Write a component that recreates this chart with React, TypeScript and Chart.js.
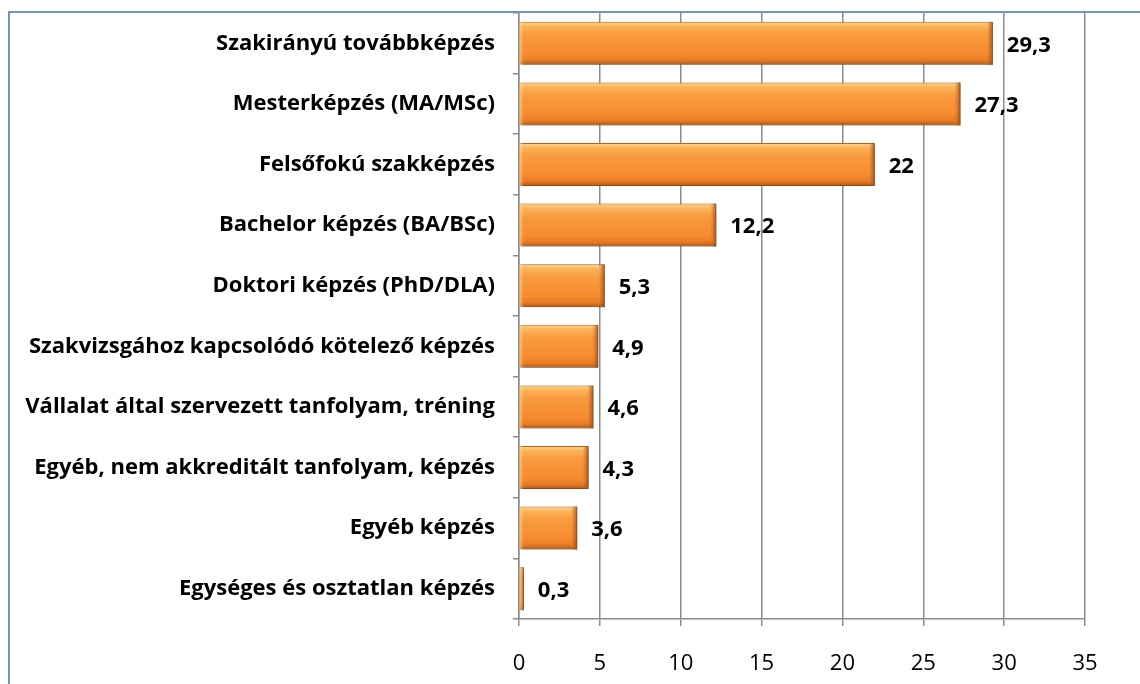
import React, { useEffect, useRef } from "react";
import { Chart, registerables } from "chart.js";

Chart.register(...registerables);

const categories = [
  "Szakirányú továbbképzés",
  "Mesterképzés (MA/MSc)",
  "Felsőfokú szakképzés",
  "Bachelor képzés (BA/BSc)",
  "Doktori képzés (PhD/DLA)",
  "Szakvizsgához kapcsolódó kötelező képzés",
  "Vállalat által szervezett tanfolyam, tréning",
  "Egyéb, nem akkreditált tanfolyam, képzés",
  "Egyéb képzés",
  "Egységes és osztatlan képzés",
];
const values = [29.3, 27.3, 22, 12.2, 5.3, 4.9, 4.6, 4.3, 3.6, 0.3];
const xMin = 0;
const xMax = 35;
const xStep = 5;

const FONT = "'Open Sans', 'Noto Sans', sans-serif";
const BAR_PCT = 0.71;

const fmt = (v: number) => String(v).replace(".", ",");

const barGradient = (ctx: any) => {
  const chart = ctx.chart;
  const ys = chart.scales && chart.scales.y;
  if (!ys || ctx.dataIndex === undefined || !chart.chartArea) return "#F7923A";
  const c = ys.getPixelForValue(ctx.dataIndex);
  const h = (ys.height / categories.length) * BAR_PCT;
  const g = chart.ctx.createLinearGradient(0, c - h / 2, 0, c + h / 2);
  g.addColorStop(0, "#FDD58A");
  g.addColorStop(0.12, "#FBB257");
  g.addColorStop(0.3, "#F99A3E");
  g.addColorStop(0.75, "#F68B30");
  g.addColorStop(0.9, "#E67A22");
  g.addColorStop(1, "#A9561A");
  return g;
};

const decorPlugin = {
  id: "decor",
  beforeDatasetsDraw(chart: any) {
    const ctx = chart.ctx;
    ctx.save();
    ctx.shadowColor = "rgba(0,0,0,0.35)";
    ctx.shadowOffsetX = 2;
    ctx.shadowOffsetY = 2;
    ctx.shadowBlur = 3;
  },
  afterDatasetsDraw(chart: any) {
    const ctx = chart.ctx;
    ctx.restore();
    const meta = chart.getDatasetMeta(0);
    ctx.save();
    meta.data.forEach((bar: any, i: number) => {
      const { x, y, base, height } = bar.getProps(["x", "y", "base", "height"], true);
      const top = y - height / 2;
      const w = Math.min(6, x - base);
      const g = ctx.createLinearGradient(x - w, 0, x, 0);
      g.addColorStop(0, "rgba(200,100,30,0)");
      g.addColorStop(1, "rgba(150,70,15,0.85)");
      ctx.fillStyle = g;
      ctx.fillRect(x - w, top, w, height);
      const lw = Math.min(4, x - base);
      const lg = ctx.createLinearGradient(base, 0, base + lw, 0);
      lg.addColorStop(0, "rgba(255,220,150,0.6)");
      lg.addColorStop(1, "rgba(255,220,150,0)");
      ctx.fillStyle = lg;
      ctx.fillRect(base, top, lw, height);
      ctx.fillStyle = "#000";
      ctx.font = `bold 22px ${FONT}`;
      ctx.textAlign = "left";
      ctx.textBaseline = "middle";
      ctx.fillText(fmt(values[i]), x + 14, y + 2);
    });
    ctx.restore();
  },
  afterDraw(chart: any) {
    const ctx = chart.ctx;
    ctx.save();
    ctx.strokeStyle = "#6E95C8";
    ctx.lineWidth = 2;
    ctx.beginPath();
    ctx.moveTo(9, 684);
    ctx.lineTo(9, 12);
    ctx.lineTo(1140, 12);
    ctx.stroke();
    ctx.restore();
  },
};

export default function App() {
  const ref = useRef<HTMLCanvasElement | null>(null);
  useEffect(() => {
    document.body.style.margin = "0";
    const canvas = ref.current;
    if (!canvas) return;
    const chart = new Chart(canvas, {
      type: "bar",
      data: {
        labels: categories,
        datasets: [
          {
            data: values,
            backgroundColor: barGradient,
            borderColor: "#B9621C",
            borderWidth: 1,
            categoryPercentage: 1,
            barPercentage: BAR_PCT,
          },
        ],
      },
      options: {
        indexAxis: "y",
        animation: false,
        responsive: false,
        devicePixelRatio: 1,
        layout: { padding: { top: 13, right: 55, left: 0, bottom: 0 } },
        plugins: {
          legend: { display: false },
          title: { display: false },
          tooltip: { enabled: false },
        },
        scales: {
          x: {
            min: xMin,
            max: xMax,
            ticks: {
              stepSize: xStep,
              color: "#000",
              font: { family: FONT, size: 22 },
              padding: 25,
            },
            grid: { color: "#8C8C8C", lineWidth: 1.5, tickLength: 7 },
            border: { color: "#8C8C8C", width: 1.5 },
            afterFit: (s: any) => {
              s.height = 65;
              s.paddingLeft = 0;
              s.paddingRight = 0;
            },
          },
          y: {
            ticks: {
              color: "#000",
              font: { family: FONT, size: 22, weight: "bold" },
              padding: 18,
            },
            grid: {
              drawOnChartArea: false,
              drawTicks: true,
              tickLength: 6,
              color: "#8C8C8C",
              lineWidth: 1.5,
            },
            border: { color: "#8C8C8C", width: 1.5 },
            afterFit: (s: any) => {
              s.width = 519;
              s.paddingTop = 0;
              s.paddingBottom = 0;
            },
          },
        },
      },
      plugins: [decorPlugin],
    } as any);
    return () => chart.destroy();
  }, []);
  return (
    <div style={{ width: 1140, height: 684, position: "relative", background: "#fff" }}>
      <canvas ref={ref} width={1140} height={684} style={{ display: "block" }} />
    </div>
  );
}
